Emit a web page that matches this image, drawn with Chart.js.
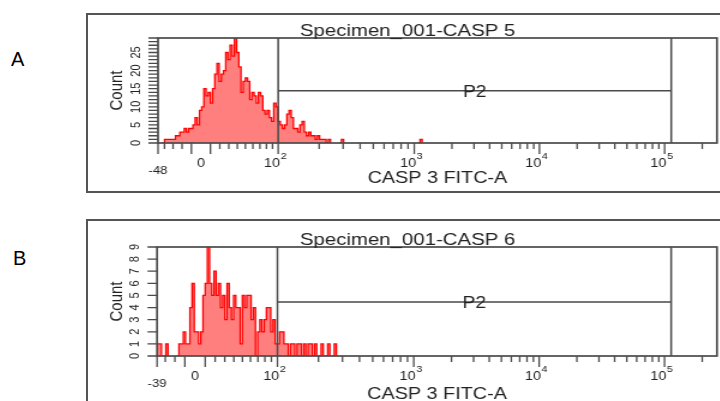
<!doctype html>
<html>
<head>
<title>CASP 3 FITC-A histograms</title>
<script src="https://cdn.jsdelivr.net/npm/chart.js@4.4.1/dist/chart.umd.min.js"></script>
<style>
body { margin: 0; width: 720px; height: 401px; overflow: hidden; background: #fff; position: relative; }
.letter { position: absolute; font-family: "Liberation Sans", Arial, sans-serif; font-size: 20px; color: #000; }
.box { position: absolute; box-sizing: border-box; border: 2px solid #555; }
.stretch { position: absolute; transform: scaleX(1.2); transform-origin: 0 0; }
</style>
</head>
<body>
<div class="letter" style="left:11px; top:48px">A</div>
<div class="letter" style="left:13px; top:247px">B</div>
<div class="box" style="left:86px; top:13px; width:650px; height:180px"></div>
<div class="box" style="left:86px; top:219px; width:650px; height:200px"></div>
<div class="stretch" style="left:86px; top:13px"><canvas id="canvasA" width="530" height="179" style="width:530px;height:179px"></canvas></div>
<div class="stretch" style="left:86px; top:219px"><canvas id="canvasB" width="530" height="182" style="width:530px;height:182px"></canvas></div>
<script>
var BINS = 256;
var TOP_VALUE = 262144;
var xTitle = 'CASP 3 FITC-A';
var yTitle = 'Count';

// tick labels on the logicle axis
var xLabelValues = [0, 100, 1000, 10000, 100000];
var xLabelText = ['0', '10^2', '10^3', '10^4', '10^5'];
var xLongTicks = [-10, 10, 100, 1000, 10000, 100000];
var xShortTicks = [-40, -30, -20, 20, 30, 40, 50, 60, 70, 80, 90];
[100, 1000, 10000, 100000].forEach(function(d) {
  for (var k = 2; k <= 9; k++) if (d * k < TOP_VALUE) xShortTicks.push(d * k);
});

// panel A
var titleA = 'Specimen_001-CASP 5';
var xMinA = -48;
var yMaxA = 29;
var yLabelsA = [0, 5, 10, 15, 20, 25];
var gateA = [100, 113000, 14.4];
var countsA = [0, 0, 0, 1, 1, 1, 1, 1, 2, 2,
  3, 3, 4, 3, 4, 4, 5, 7, 5, 9,
  10, 15, 13, 14, 11, 15, 19, 22, 17, 19,
  20, 25, 23, 27, 24, 29, 25, 21, 14, 17,
  18, 17, 12, 14, 13, 11, 14, 13, 9, 8,
  9, 7, 6, 11, 10, 6, 5, 4, 5, 8,
  9, 7, 4, 4, 3, 5, 6, 3, 2, 3,
  2, 2, 1, 2, 1, 1, 1, 0, 1, 0,
  0, 0, 0, 0, 1, 0, 0, 0, 0, 0,
  0, 0, 0, 0, 0, 0, 0, 0, 0, 0,
  0, 0, 0, 0, 0, 0, 0, 0, 0, 0,
  0, 0, 0, 0, 0, 0, 0, 0, 0, 0,
  1];

// panel B
var titleB = 'Specimen_001-CASP 6';
var xMinB = -39;
var yMaxB = 9;
var yLabelsB = [0, 1, 2, 3, 4, 5, 6, 7, 8, 9];
var gateB = [100, 113000, 4.46];
var countsB = [1, 1, 0, 0, 1, 0, 0, 0, 0, 0,
  1, 1, 2, 1, 1, 4, 6, 2, 2, 1,
  2, 5, 6, 9, 6, 5, 7, 5, 6, 4,
  5, 3, 6, 4, 3, 5, 4, 4, 1, 5,
  4, 5, 5, 3, 4, 0, 2, 3, 2, 3,
  4, 4, 2, 3, 1, 1, 2, 2, 1, 1,
  0, 1, 1, 0, 1, 1, 0, 1, 0, 1,
  1, 0, 1, 0, 0, 1, 0, 0, 1, 0,
  0, 1];

var LINE = '#4a4a4a';
var TEXT = '#222';
var FONT = '"Liberation Sans", Arial, sans-serif';

// logicle-like display transform, in reference pixels from the axis start
function logicle(v, lo) {
  var w = 70, d100 = 120.5, d1000 = 257, decade = 125.5;
  if (v >= 1000) return d1000 + decade * Math.log10(v / 1000);
  if (v >= 100) return d100 + (d1000 - d100) * Math.log10(v / 100);
  var a = d100 / (Math.asinh(100 / w) + Math.asinh(-lo / w));
  return a * (Math.asinh(-lo / w) + Math.asinh(v / w));
}
function toChannel(v, lo) {
  return logicle(v, lo) * BINS / logicle(TOP_VALUE, lo);
}

function decorations(p) {
  return {
    id: 'facsDecor',
    afterDraw: function(chart) {
      var ctx = chart.ctx, a = chart.chartArea;
      var xs = chart.scales.x, ys = chart.scales.y;
      function xAt(v) { return xs.getPixelForValue(toChannel(v, p.xMin)); }
      ctx.save();
      ctx.strokeStyle = LINE;

      // gate P2
      var g0 = xAt(p.gate[0]), g1 = xAt(p.gate[1]), gy = ys.getPixelForValue(p.gate[2]);
      ctx.lineWidth = 1.5;
      ctx.beginPath();
      ctx.moveTo(g0, a.top); ctx.lineTo(g0, a.bottom);
      ctx.moveTo(g1, a.top); ctx.lineTo(g1, a.bottom);
      ctx.moveTo(g0, gy); ctx.lineTo(g1, gy);
      ctx.stroke();

      // plot frame
      ctx.lineWidth = 1.7;
      ctx.strokeRect(a.left, a.top, a.right - a.left, a.bottom - a.top);

      // ticks
      ctx.lineWidth = 1.3;
      ctx.beginPath();
      xLongTicks.concat([p.xMin]).forEach(function(v) {
        var x = xAt(v);
        ctx.moveTo(x, a.bottom); ctx.lineTo(x, a.bottom + 11);
      });
      xShortTicks.forEach(function(v) {
        if (v <= p.xMin) return;
        var x = xAt(v);
        ctx.moveTo(x, a.bottom); ctx.lineTo(x, a.bottom + 6);
      });
      for (var i = 0; i <= p.yMax; i++) {
        var y = ys.getPixelForValue(i);
        ctx.moveTo(a.left - 8, y); ctx.lineTo(a.left, y);
      }
      ctx.stroke();

      ctx.fillStyle = TEXT;
      // x tick labels
      ctx.textBaseline = 'alphabetic';
      xLabelValues.forEach(function(v, i) {
        var x = xAt(v), parts = xLabelText[i].split('^');
        ctx.font = '12px ' + FONT;
        if (parts.length == 1) {
          ctx.textAlign = 'center';
          ctx.fillText(parts[0], x, a.bottom + 24);
        } else {
          ctx.textAlign = 'right';
          ctx.fillText(parts[0], x + 1.5, a.bottom + 24);
          ctx.font = '9px ' + FONT;
          ctx.textAlign = 'left';
          ctx.fillText(parts[1], x + 2, a.bottom + 16);
        }
      });
      ctx.font = '11px ' + FONT;
      ctx.textAlign = 'center';
      ctx.fillText(String(p.xMin), xAt(p.xMin), a.bottom + 31);

      // y tick labels, rotated
      p.yLabels.forEach(function(v) {
        ctx.save();
        ctx.translate(a.left - 15, ys.getPixelForValue(v));
        ctx.rotate(-Math.PI / 2);
        ctx.font = '11px ' + FONT;
        ctx.textAlign = 'center';
        ctx.fillText(String(v), 0, 0);
        ctx.restore();
      });

      // titles
      ctx.font = '17px ' + FONT;
      ctx.textAlign = 'center';
      ctx.fillText(p.title, 268, a.top - 2);
      ctx.font = '16.5px ' + FONT;
      ctx.fillText(xTitle, (a.left + a.right) / 2, p.xTitleY);
      ctx.font = '16px ' + FONT;
      ctx.fillText('P2', (g0 + g1) / 2, gy + 6);
      ctx.save();
      ctx.translate(29.5, (a.top + a.bottom) / 2);
      ctx.rotate(-Math.PI / 2);
      ctx.font = '15px ' + FONT;
      ctx.fillText(yTitle, 0, 0);
      ctx.restore();

      ctx.restore();
    }
  };
}

function makeHistogram(id, p) {
  var points = [];
  for (var i = 0; i <= BINS; i++) points.push({ x: i, y: p.counts[i] || 0 });
  new Chart(document.getElementById(id), {
    type: 'line',
    data: {
      datasets: [{
        data: points,
        stepped: 'before',
        fill: 'origin',
        borderColor: '#ff0000',
        backgroundColor: 'rgba(255, 0, 0, 0.5)',
        borderWidth: 1.3,
        pointRadius: 0,
        segment: {
          borderColor: function(c) {
            return (c.p0.parsed.y === 0 && c.p1.parsed.y === 0) ? 'rgba(0,0,0,0)' : '#ff0000';
          }
        }
      }]
    },
    options: {
      responsive: false,
      animation: false,
      events: [],
      layout: { padding: p.padding },
      plugins: { legend: { display: false }, tooltip: { enabled: false } },
      scales: {
        x: { type: 'linear', min: 0, max: BINS, display: false },
        y: { type: 'linear', min: 0, max: p.yMax, display: false }
      }
    },
    plugins: [decorations(p)]
  });
}

makeHistogram('canvasA', {
  title: titleA, counts: countsA, xMin: xMinA, yMax: yMaxA, yLabels: yLabelsA, gate: gateA,
  padding: { left: 60, right: 4.2, top: 25, bottom: 49 }, xTitleY: 170
});
makeHistogram('canvasB', {
  title: titleB, counts: countsB, xMin: xMinB, yMax: yMaxB, yLabels: yLabelsB, gate: gateB,
  padding: { left: 59.2, right: 4.2, top: 28, bottom: 45 }, xTitleY: 180
});
</script>
</body>
</html>
